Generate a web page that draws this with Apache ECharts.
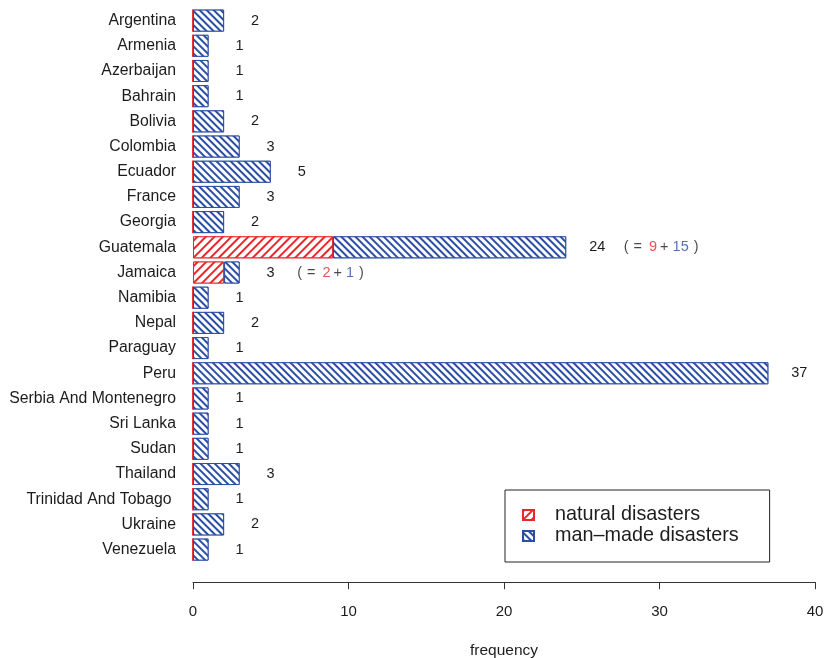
<!DOCTYPE html>
<html>
<head>
<meta charset="utf-8">
<script src="https://cdn.jsdelivr.net/npm/echarts@6/dist/echarts.min.js"></script>
<style>
  html, body { margin: 0; padding: 0; background: #fff; overflow: hidden; }
  #chart { width: 828px; height: 658px; }
</style>
</head>
<body>
<div id="chart"></div>
<script>
// Countries, top to bottom
const countries = [
  "Argentina", "Armenia", "Azerbaijan", "Bahrain", "Bolivia", "Colombia",
  "Ecuador", "France", "Georgia", "Guatemala", "Jamaica", "Namibia", "Nepal",
  "Paraguay", "Peru", "Serbia And Montenegro", "Sri Lanka", "Sudan",
  "Thailand", "Trinidad And Tobago ", "Ukraine", "Venezuela"
];
// Number of disasters per country
const naturalDisasters = [0, 0, 0, 0, 0, 0, 0, 0, 0, 9, 2, 0, 0, 0, 0, 0, 0, 0, 0, 0, 0, 0];
const manMadeDisasters = [2, 1, 1, 1, 2, 3, 5, 3, 2, 15, 1, 1, 2, 1, 37, 1, 1, 1, 3, 1, 2, 1];
// Frequency axis ticks
const freqTicks = [0, 10, 20, 30, 40];

const RED = '#e8262d';
const BLUE = '#2b4ea3';
const INK = '#1c1c1c';
const FONT = '"Liberation Sans", Arial, Helvetica, sans-serif';

const totals = countries.map((_, i) => naturalDisasters[i] + manMadeDisasters[i]);

// Breakdown notes "( =n+m)" for countries with both kinds of disaster
const NOTE_SHIFT = 3.7;
const noteData = [];
countries.forEach((c, i) => {
  if (naturalDisasters[i] > 0 && manMadeDisasters[i] > 0) {
    noteData.push({ value: [totals[i] + NOTE_SHIFT, c], n: naturalDisasters[i], m: manMadeDisasters[i] });
  }
});

const chart = echarts.init(document.getElementById('chart'), null, { renderer: 'canvas', width: 828, height: 658 });

chart.setOption({
  animation: false,
  backgroundColor: '#ffffff',
  textStyle: { fontFamily: FONT, color: INK },
  grid: {
    left: 193, width: 622, top: 8, height: 554.2,
    containLabel: false,
    outerBoundsMode: 'none'
  },
  legend: {
    data: ['natural disasters', 'man\u2013made disasters'],
    orient: 'vertical',
    left: 505,
    top: 490,
    padding: [15, 31, 16, 17],
    itemGap: 1,
    itemWidth: 11,
    itemHeight: 10,
    borderColor: '#222',
    borderWidth: 1,
    icon: 'rect',
    textStyle: { fontFamily: FONT, fontSize: 19.8, color: INK, padding: [0, 0, 0, 16] }
  },
  xAxis: {
    type: 'value',
    min: freqTicks[0],
    max: freqTicks[freqTicks.length - 1],
    interval: freqTicks[1] - freqTicks[0],
    offset: 20,
    name: 'frequency',
    nameLocation: 'middle',
    nameGap: 61,
    nameTextStyle: { fontFamily: FONT, fontSize: 15.5, color: INK },
    axisLine: { show: true, lineStyle: { color: '#333', width: 1 } },
    axisTick: { show: true, length: 7, inside: false, lineStyle: { color: '#333', width: 1 } },
    axisLabel: { fontFamily: FONT, fontSize: 15, color: INK, margin: 22 },
    splitLine: { show: false }
  },
  yAxis: {
    type: 'category',
    data: countries,
    inverse: true,
    axisLine: { show: false },
    axisTick: { show: false },
    axisLabel: { fontFamily: FONT, fontSize: 15.8, color: INK, margin: 17 }
  },
  series: [
    {
      name: 'natural disasters',
      type: 'bar',
      stack: 'total',
      barWidth: 22,
      data: naturalDisasters,
      itemStyle: {
        color: '#ffffff',
        borderColor: RED,
        borderWidth: 1,
        decal: {
          symbol: 'rect',
          color: RED,
          backgroundColor: '#ffffff',
          dashArrayX: [1, 0],
          dashArrayY: [1.1, 3.9],
          rotation: -Math.PI / 4
        }
      }
    },
    {
      name: 'man\u2013made disasters',
      type: 'bar',
      stack: 'total',
      barWidth: 22,
      data: manMadeDisasters,
      itemStyle: {
        color: '#ffffff',
        borderColor: BLUE,
        borderWidth: 1,
        decal: {
          symbol: 'rect',
          color: BLUE,
          backgroundColor: '#ffffff',
          dashArrayX: [1, 0],
          dashArrayY: [1.3, 2.6],
          rotation: Math.PI / 4
        }
      },
      label: {
        show: true,
        position: 'right',
        distance: 31,
        align: 'center',
        fontFamily: FONT,
        fontSize: 14.5,
        color: INK,
        formatter: p => String(totals[p.dataIndex])
      }
    },
    {
      name: 'notes',
      type: 'scatter',
      symbolSize: 0,
      data: noteData,
      silent: true,
      label: {
        show: true,
        position: 'right',
        distance: 0,
        fontFamily: FONT,
        fontSize: 14.5,
        color: INK,
        formatter: p => '{k|(}{e|=}{n|' + p.data.n + '}{s|+}{m|' + p.data.m + '}{c|)}',
        rich: {
          k: { fontFamily: FONT, fontSize: 14.5, color: INK },
          e: { fontFamily: FONT, fontSize: 14.5, color: INK, padding: [0, 0, 0, 5] },
          s: { fontFamily: FONT, fontSize: 14.5, color: INK, padding: [0, 4, 0, 3] },
          n: { fontFamily: FONT, fontSize: 14.5, color: RED, padding: [0, 0, 0, 7] },
          m: { fontFamily: FONT, fontSize: 14.5, color: BLUE },
          c: { fontFamily: FONT, fontSize: 14.5, color: INK, padding: [0, 0, 0, 5] }
        }
      }
    }
  ]
});
</script>
</body>
</html>
